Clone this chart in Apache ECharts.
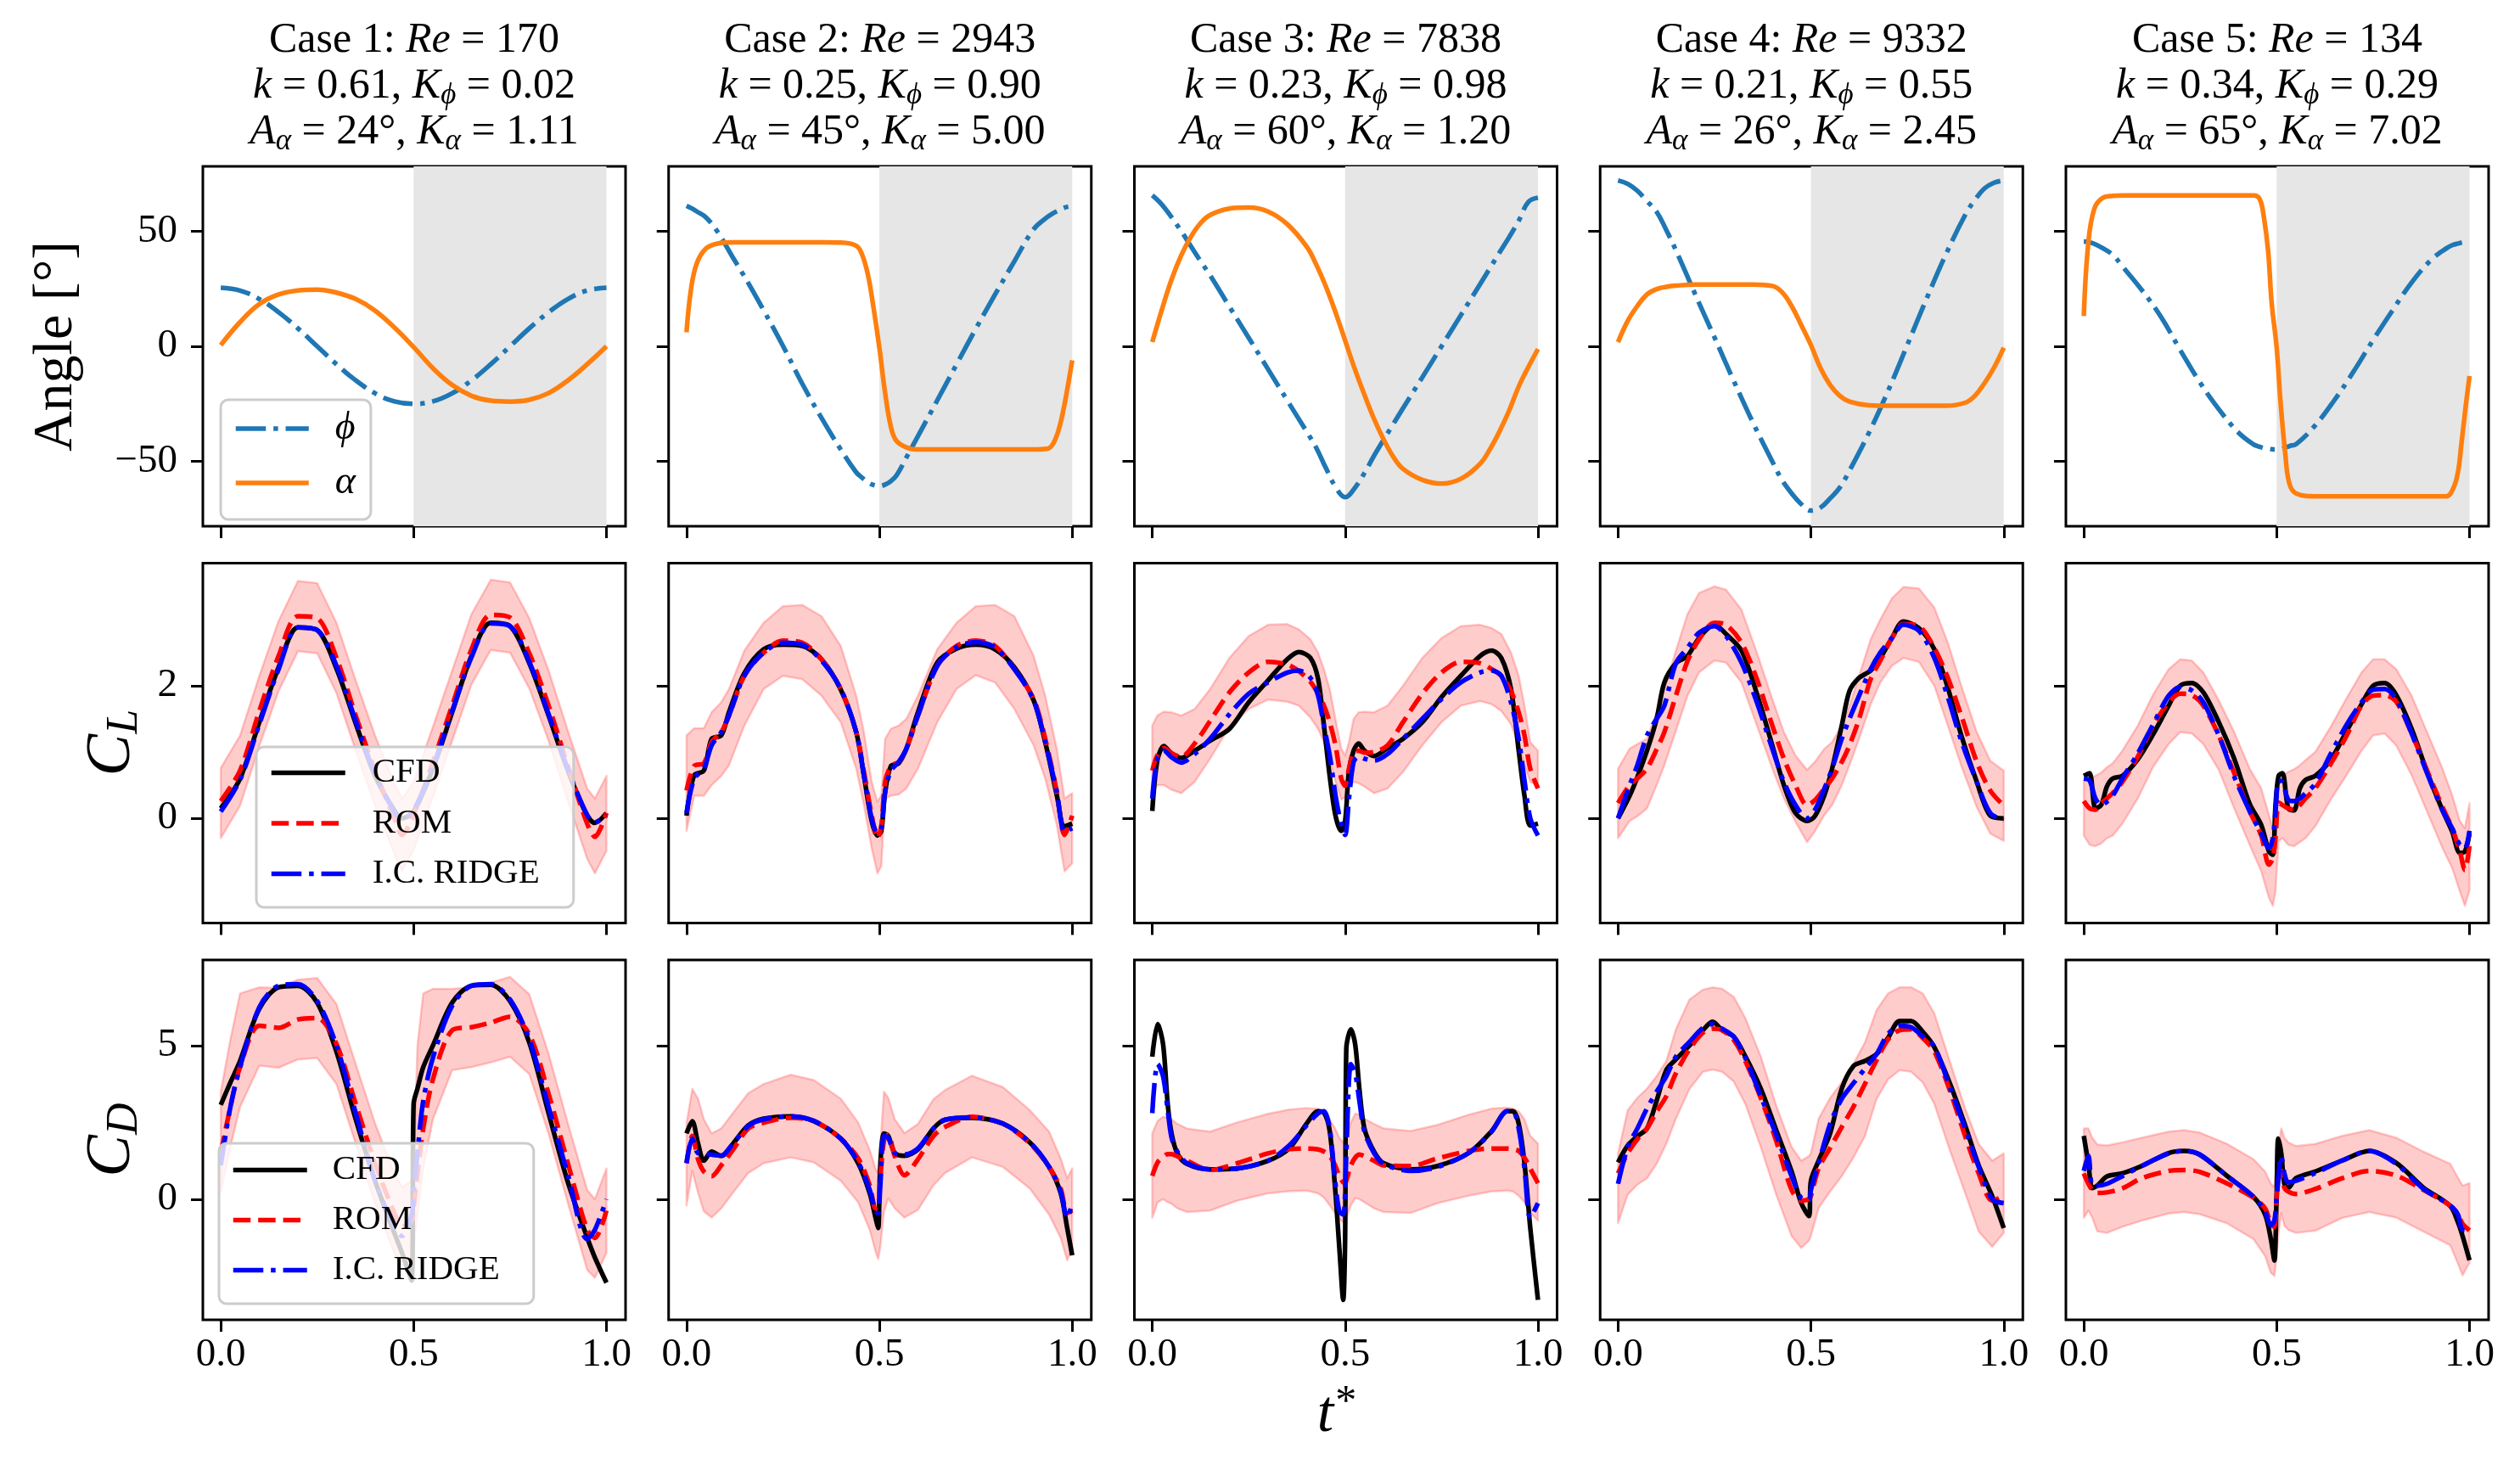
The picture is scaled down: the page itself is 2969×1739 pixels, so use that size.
<!DOCTYPE html>
<html><head><meta charset="utf-8">
<script src="https://cdn.jsdelivr.net/npm/echarts@6.0.0/dist/echarts.min.js"></script>
<style>html,body{margin:0;padding:0;background:#fff}#c{width:2969px;height:1739px}</style>
</head><body><div id="c"></div>
<script>
// ---------------- DATA ----------------
const caseRe = [170, 2943, 7838, 9332, 134];
const caseK = ['0.61', '0.25', '0.23', '0.21', '0.34'];
const caseKphi = ['0.02', '0.90', '0.98', '0.55', '0.29'];
const caseAalpha = [24, 45, 60, 26, 65];
const caseKalpha = ['1.11', '5.00', '1.20', '2.45', '7.02'];

const xTickValues = [0, 0.5, 1.0];
const angleTicks = [-50, 0, 50];
const clTicks = [0, 2];
const cdTicks = [0, 5];

// Row 1: angles
const tA1 = [0,0.05,0.1,0.15,0.2,0.25,0.3,0.35,0.4,0.45,0.5,0.55,0.6,0.65,0.7,0.75,0.8,0.85,0.9,0.95,1.0];
const phiA1 = [25.4,24.2,20.5,14.8,7.8,0,-7.8,-14.8,-20.4,-23.9,-25,-23.9,-20.4,-14.8,-7.8,0,7.8,14.8,20.5,24.2,25.4];
const alphaA1 = [0.5,10.5,18.3,22.5,24.2,24.6,23.3,20.5,15.5,8.2,-0.3,-9.5,-16.8,-21.5,-23.6,-24.0,-23.2,-20.3,-14.8,-7.8,0];

const tA2 = [0,0.012,0.027,0.05,0.08,0.12,0.16,0.2,0.25,0.3,0.35,0.4,0.44,0.455,0.47,0.485,0.5,0.515,0.53,0.545,0.575,0.6,0.65,0.7,0.75,0.8,0.85,0.9,0.935,0.95,0.965,0.98,1.0];
const phiA2 = [61,60,58.5,56,49.8,38.6,27.5,15.6,0.2,-16.2,-31.1,-44.8,-54.7,-57,-59,-60.2,-60.6,-60,-58.5,-55.9,-46.7,-39,-23.5,-7.9,7.6,22.5,36.9,50.8,56,57.7,59,60.2,61];
const alphaA2 = [6.1,25.2,36.2,42.4,44.6,45.1,45.1,45.1,45.1,45.1,45.1,45.0,43.6,39.9,31.3,16.6,-0.6,-20.3,-35,-41.2,-44.2,-44.8,-44.8,-44.8,-44.8,-44.8,-44.8,-44.8,-44.5,-42.4,-36.2,-25.2,-6.1];

const tA3 = [0,0.025,0.05,0.075,0.1,0.125,0.15,0.2,0.25,0.3,0.35,0.4,0.425,0.45,0.475,0.5,0.525,0.55,0.575,0.6,0.625,0.65,0.7,0.75,0.8,0.85,0.875,0.9,0.925,0.95,0.975,1.0];
const phiA3 = [65.5,61.5,56,50,43.5,37,30.8,17.2,3.7,-9.9,-23.5,-37,-44,-52.8,-61,-65.5,-61.5,-55,-47.5,-40.5,-33.7,-26.9,-13.5,0,13.5,27,33.8,40.6,47.3,54.5,62.6,64.5];
const alphaA3 = [1.8,16,29,39.5,47.5,53.4,57,59.8,60.2,58.5,53,43.3,35.5,26,14.8,2.5,-9.8,-21,-31.5,-40.5,-48,-53.2,-58,-59.6,-57.5,-51,-44.8,-37,-28,-17.5,-9,-1.2];

const tA4 = [0,0.025,0.05,0.075,0.1,0.125,0.15,0.2,0.25,0.3,0.35,0.4,0.425,0.45,0.475,0.5,0.525,0.55,0.575,0.6,0.65,0.7,0.75,0.8,0.85,0.9,0.925,0.95,0.975,1.0];
const phiA4 = [72,70.5,67.5,63,58.4,50.5,41.7,22.6,3.9,-15,-33.2,-50,-58,-63.8,-68.5,-71.3,-70,-66,-61.3,-54,-37.7,-19.4,0.6,20.7,39.9,57,63.5,68.5,71,72];
const alphaA4 = [1.8,11,17.5,22.5,24.8,25.8,26.3,26.8,26.8,26.8,26.8,26.2,23.5,17.5,9.2,0.6,-9.5,-16.8,-21.5,-24,-25.6,-25.8,-25.8,-25.8,-25.8,-24.5,-21.5,-16,-9.2,-0.6];

const tA5 = [0,0.011,0.027,0.05,0.075,0.1,0.15,0.2,0.25,0.3,0.35,0.4,0.44,0.456,0.467,0.478,0.487,0.5,0.51,0.522,0.533,0.551,0.6,0.65,0.7,0.75,0.8,0.85,0.9,0.94,0.957,0.97,0.979,0.989,1.0];
const phiA5 = [45.5,45.3,44.5,42.5,39.7,34.7,24.5,12.8,-1.6,-15.4,-27.3,-37.3,-42.6,-43.6,-44.2,-44.5,-44.7,-44.8,-44.6,-44,-43.3,-42.4,-34.3,-23.3,-10.8,2.7,15.5,27.7,37.4,42.5,44,44.6,45,45.3,45.5];
const alphaA5 = [13.1,43.6,59.6,64.5,65.3,65.5,65.5,65.5,65.5,65.5,65.5,65.5,65.5,63.9,55.9,41.2,19,-0.6,-24,-46,-59.6,-63.9,-65.1,-65.1,-65.1,-65.1,-65.1,-65.1,-65.1,-65.1,-62,-54.7,-42.4,-27.6,-12.9];

// Row 2: C_L
const tL1 = [0,0.05,0.1,0.15,0.2,0.25,0.3,0.35,0.4,0.45,0.47,0.5,0.55,0.6,0.65,0.7,0.75,0.8,0.85,0.9,0.95,0.97,1.0];
const cfdL1 = [0.15,0.6,1.45,2.28,2.88,2.84,2.26,1.43,0.64,0.12,0.0,0.1,0.75,1.6,2.45,2.95,2.9,2.34,1.55,0.72,0.04,-0.07,0.08];
const romL1 = [0.26,0.72,1.62,2.45,3.05,3.02,2.42,1.55,0.72,0.0,-0.25,0.05,0.85,1.7,2.55,3.07,3.03,2.49,1.7,0.79,-0.08,-0.28,0.08];
const ridgeL1 = [0.1,0.58,1.42,2.25,2.88,2.84,2.3,1.47,0.66,0.1,-0.02,0.12,0.78,1.62,2.43,2.94,2.9,2.36,1.57,0.74,0.05,-0.06,0.05];
const hiL1 = [0.76,1.25,2.15,2.98,3.58,3.55,2.95,2.08,1.25,0.53,0.3,0.55,1.38,2.23,3.08,3.6,3.56,3.02,2.23,1.32,0.45,0.3,0.64];
const loL1 = [-0.3,0.19,1.09,1.92,2.52,2.49,1.89,1.02,0.19,-0.53,-0.8,-0.48,0.32,1.17,2.02,2.54,2.5,1.96,1.17,0.26,-0.61,-0.83,-0.49];

const tL2 = [0,0.02,0.045,0.065,0.09,0.11,0.15,0.2,0.25,0.3,0.35,0.4,0.44,0.46,0.48,0.495,0.505,0.515,0.53,0.55,0.57,0.6,0.65,0.7,0.75,0.8,0.85,0.9,0.93,0.96,0.98,1.0];
const cfdL2 = [0.04,0.65,0.72,1.2,1.25,1.6,2.19,2.55,2.62,2.6,2.4,1.94,1.3,0.64,-0.04,-0.26,-0.19,0.4,0.79,0.83,1.05,1.6,2.35,2.56,2.62,2.55,2.28,1.78,1.15,0.35,-0.12,-0.08];
const romL2 = [0.42,0.79,0.83,1.15,1.3,1.55,2.15,2.5,2.68,2.65,2.4,1.95,1.3,0.7,0.05,-0.3,-0.12,0.55,0.79,0.85,1.05,1.55,2.3,2.6,2.68,2.6,2.25,1.8,1.2,0.4,-0.25,0.04];
const ridgeL2 = [0.08,0.6,0.75,1.1,1.3,1.55,2.15,2.5,2.65,2.62,2.38,1.95,1.3,0.65,0.0,-0.22,-0.15,0.4,0.72,0.85,1.05,1.55,2.3,2.58,2.66,2.58,2.25,1.78,1.15,0.4,-0.2,-0.15];
const hiL2 = [1.25,1.36,1.36,1.6,1.75,1.95,2.53,2.95,3.2,3.22,3.05,2.6,1.85,1.3,0.55,0.25,0.35,1.2,1.35,1.4,1.5,1.85,2.55,2.95,3.2,3.22,3.05,2.45,1.85,1.05,0.3,0.38];
const loL2 = [-0.19,0.34,0.34,0.5,0.64,0.8,1.4,1.95,2.15,2.1,1.85,1.45,0.75,0.2,-0.45,-0.83,-0.72,0.3,0.34,0.36,0.45,0.75,1.45,1.95,2.16,2.05,1.65,1.1,0.6,-0.1,-0.8,-0.68];

const tL3 = [0,0.013,0.03,0.05,0.075,0.11,0.15,0.2,0.25,0.3,0.35,0.38,0.41,0.43,0.445,0.46,0.475,0.49,0.5,0.51,0.522,0.535,0.55,0.575,0.61,0.65,0.7,0.75,0.8,0.85,0.88,0.905,0.93,0.95,0.965,0.98,1.0];
const cfdL3 = [0.11,0.87,1.09,0.98,0.91,1.02,1.17,1.35,1.75,2.08,2.4,2.51,2.42,2.1,1.4,0.64,0.04,-0.19,-0.04,0.72,1.02,1.13,1.02,0.94,1.06,1.2,1.45,1.83,2.15,2.45,2.53,2.42,1.95,1.02,0.34,-0.11,-0.08];
const romL3 = [0.72,0.95,1.06,0.98,0.93,1.13,1.47,1.9,2.2,2.36,2.32,2.22,2.06,1.88,1.7,1.45,1.1,0.6,0.49,0.75,1.0,1.02,0.99,1.0,1.1,1.45,1.88,2.2,2.36,2.34,2.25,2.15,1.92,1.6,1.25,0.75,0.45];
const ridgeL3 = [0.3,0.9,1.02,0.92,0.84,0.97,1.2,1.57,1.88,2.05,2.2,2.23,2.12,1.85,1.4,0.95,0.35,-0.1,-0.25,0.3,0.85,0.93,0.9,0.87,0.97,1.2,1.5,1.8,2.05,2.2,2.23,2.15,1.75,1.2,0.57,0.0,-0.26];
const hiL3 = [1.4,1.55,1.61,1.6,1.55,1.65,1.95,2.42,2.75,2.92,2.93,2.85,2.7,2.5,2.25,1.95,1.5,1.05,0.95,1.15,1.5,1.6,1.61,1.6,1.7,2.0,2.42,2.72,2.9,2.92,2.87,2.78,2.5,2.15,1.7,1.15,1.02];
const loL3 = [0.34,0.5,0.5,0.43,0.38,0.55,0.9,1.38,1.65,1.79,1.76,1.7,1.52,1.35,1.15,0.9,0.55,0.28,0.32,0.5,0.55,0.53,0.48,0.38,0.45,0.7,1.1,1.45,1.7,1.77,1.72,1.62,1.42,1.1,0.8,0.55,0.49];

const tL4 = [0,0.03,0.05,0.075,0.1,0.12,0.15,0.18,0.21,0.25,0.28,0.32,0.36,0.4,0.43,0.46,0.49,0.51,0.535,0.555,0.58,0.6,0.625,0.655,0.68,0.71,0.74,0.78,0.82,0.855,0.89,0.93,0.965,1.0];
const cfdL4 = [0.0,0.34,0.62,1.02,1.5,2.05,2.34,2.45,2.72,2.92,2.78,2.53,1.88,1.1,0.5,0.08,-0.04,0.03,0.35,0.75,1.4,1.92,2.12,2.23,2.42,2.72,2.97,2.87,2.55,1.97,1.25,0.55,0.04,0.0];
const romL4 = [0.23,0.5,0.6,0.75,1.04,1.3,1.85,2.37,2.7,2.95,2.92,2.65,2.1,1.4,0.9,0.5,0.2,0.27,0.45,0.6,0.85,1.1,1.5,2.1,2.38,2.72,2.93,2.9,2.57,2.12,1.55,0.85,0.42,0.19];
const ridgeL4 = [0.0,0.5,0.8,1.25,1.5,1.7,2.34,2.57,2.8,2.9,2.75,2.35,1.75,1.05,0.55,0.2,0.0,0.12,0.45,0.75,1.2,1.5,1.85,2.25,2.5,2.72,2.92,2.83,2.42,1.83,1.17,0.55,0.08,-0.03];
const hiL4 = [0.75,1.05,1.12,1.2,1.6,1.95,2.53,3.08,3.4,3.5,3.45,3.15,2.5,1.8,1.3,0.95,0.73,0.85,1.05,1.15,1.4,1.7,2.15,2.7,3.0,3.32,3.49,3.47,3.18,2.65,2.0,1.3,0.87,0.72];
const loL4 = [-0.3,-0.04,0.03,0.15,0.5,0.8,1.32,1.85,2.2,2.38,2.35,2.05,1.4,0.75,0.3,-0.05,-0.36,-0.2,0.05,0.2,0.5,0.8,1.2,1.72,2.05,2.3,2.42,2.36,2.0,1.4,0.79,0.17,-0.23,-0.34];

const tL5 = [0,0.015,0.03,0.045,0.06,0.075,0.1,0.14,0.18,0.22,0.25,0.28,0.31,0.35,0.39,0.43,0.46,0.48,0.49,0.497,0.505,0.515,0.53,0.545,0.56,0.575,0.6,0.64,0.68,0.72,0.75,0.78,0.81,0.85,0.89,0.93,0.955,0.975,0.988,1.0];
const cfdL5 = [0.64,0.68,0.15,0.2,0.48,0.6,0.64,0.89,1.27,1.7,2.0,2.04,1.9,1.45,0.9,0.22,-0.1,-0.5,-0.55,0.2,0.64,0.68,0.15,0.12,0.45,0.58,0.64,0.88,1.3,1.72,2.0,2.04,1.86,1.35,0.7,0.12,-0.2,-0.52,-0.5,-0.23];
const romL5 = [0.26,0.15,0.13,0.22,0.3,0.38,0.55,0.93,1.4,1.75,1.88,1.86,1.7,1.25,0.68,0.11,-0.26,-0.7,-0.6,-0.3,0.24,0.2,0.15,0.13,0.2,0.3,0.45,0.82,1.23,1.7,1.85,1.86,1.76,1.28,0.72,0.17,-0.15,-0.5,-0.78,-0.42];
const ridgeL5 = [0.6,0.57,0.3,0.2,0.25,0.34,0.6,0.98,1.42,1.85,1.98,1.93,1.75,1.25,0.63,0.11,-0.23,-0.45,-0.3,0.1,0.57,0.55,0.28,0.26,0.3,0.38,0.52,0.97,1.4,1.75,1.94,1.95,1.8,1.28,0.68,0.12,-0.15,-0.4,-0.45,-0.19];
const hiL5 = [0.57,0.6,0.64,0.69,0.77,0.83,1.02,1.4,1.87,2.25,2.4,2.38,2.2,1.78,1.3,0.75,0.45,0.05,-0.15,-0.05,0.5,0.64,0.7,0.74,0.8,0.88,1.0,1.38,1.8,2.2,2.4,2.4,2.25,1.85,1.3,0.75,0.35,-0.04,-0.15,0.23];
const loL5 = [-0.26,-0.4,-0.42,-0.38,-0.3,-0.26,-0.08,0.3,0.78,1.12,1.3,1.28,1.12,0.73,0.15,-0.4,-0.8,-1.2,-1.32,-1.1,-0.34,-0.3,-0.4,-0.42,-0.36,-0.3,-0.12,0.28,0.64,1.02,1.25,1.28,1.1,0.65,0.1,-0.45,-0.75,-1.1,-1.32,-1.09];

// Row 3: C_D
const tD1 = [0,0.025,0.05,0.1,0.15,0.2,0.25,0.3,0.35,0.4,0.45,0.47,0.495,0.5,0.51,0.525,0.55,0.6,0.65,0.7,0.75,0.8,0.85,0.9,0.95,0.97,1.0];
const cfdD1 = [3.07,3.8,4.5,6.2,6.9,6.95,6.4,4.8,2.6,0.6,-1.1,-1.75,-2.65,3.1,3.6,4.3,5.0,6.4,6.95,6.98,6.45,5.1,2.8,0.55,-1.25,-1.9,-2.72];
const romD1 = [1.5,3.0,4.3,5.65,5.58,5.85,5.9,5.05,3.1,1.17,-0.45,-0.9,-0.7,-0.3,0.8,2.3,3.9,5.5,5.6,5.75,5.94,5.37,3.43,1.17,-1.0,-1.26,-0.37];
const ridgeD1 = [1.1,3.0,4.3,6.25,6.95,7.0,6.45,5.0,2.8,0.6,-0.9,-1.2,-0.5,0.2,1.5,3.2,4.6,6.3,6.95,7.0,6.5,5.2,3.0,0.8,-1.3,-1.0,0.0];
const hiD1 = [3.5,5.2,6.7,6.9,6.88,7.15,7.2,6.35,4.4,2.47,0.85,0.4,0.6,1.0,5.0,6.7,6.85,6.85,6.9,7.05,7.24,6.67,4.73,2.47,0.3,0.0,1.0];
const loD1 = [0.2,1.7,3.0,4.35,4.28,4.55,4.6,3.75,1.8,-0.13,-1.75,-2.2,-2.0,-1.6,-0.5,1.0,2.6,4.2,4.3,4.45,4.64,4.07,2.13,-0.13,-2.3,-2.56,-1.75];

const tD2 = [0,0.015,0.03,0.045,0.065,0.09,0.12,0.16,0.2,0.27,0.33,0.4,0.445,0.475,0.49,0.497,0.502,0.512,0.523,0.54,0.565,0.6,0.64,0.67,0.74,0.82,0.89,0.94,0.97,0.987,1.0];
const cfdD2 = [2.14,2.54,1.81,1.25,1.55,1.41,1.8,2.4,2.62,2.7,2.54,1.97,1.17,0.19,-0.6,-0.94,1.0,2.14,2.06,1.5,1.41,1.62,2.3,2.59,2.65,2.46,1.85,1.05,0.2,-0.94,-1.83];
const romD2 = [1.17,2.06,1.3,0.9,0.75,1.1,1.6,2.3,2.49,2.65,2.55,1.97,1.33,0.45,-0.3,-0.2,0.6,1.9,2.1,1.4,0.78,1.3,2.05,2.35,2.68,2.46,1.82,1.05,0.35,-0.45,-0.37];
const ridgeD2 = [1.17,1.97,1.5,1.49,1.45,1.42,1.8,2.38,2.6,2.7,2.55,1.97,1.2,0.3,-0.4,-0.45,0.36,2.06,2.0,1.5,1.45,1.65,2.3,2.58,2.66,2.46,1.85,1.05,0.25,-0.61,-0.13];
const hiD2 = [2.46,3.59,3.27,2.6,2.14,2.3,2.8,3.45,3.75,4.05,3.88,3.27,2.5,1.6,1.0,0.85,1.65,3.5,3.3,2.6,2.15,2.45,3.25,3.55,4.02,3.65,2.9,2.2,1.33,0.68,1.0];
const loD2 = [-0.21,0.92,0.2,-0.4,-0.6,-0.3,0.2,0.85,1.17,1.36,1.2,0.6,-0.1,-1.0,-1.7,-1.95,-1.6,-0.4,0.03,-0.3,-0.6,-0.35,0.45,0.85,1.36,1.05,0.35,-0.5,-1.26,-1.99,-1.59];

const tD3 = [0,0.014,0.028,0.04,0.05,0.065,0.09,0.15,0.22,0.3,0.355,0.4,0.43,0.445,0.46,0.474,0.485,0.495,0.5,0.503,0.515,0.526,0.537,0.55,0.575,0.6,0.67,0.74,0.82,0.88,0.92,0.935,0.95,0.965,0.98,1.0];
const cfdD3 = [4.64,5.7,5.05,3.1,2.14,1.49,1.15,0.97,1.0,1.25,1.65,2.46,2.86,2.82,2.22,0.36,-1.59,-3.28,-1.26,4.89,5.53,5.05,3.59,2.3,1.55,1.17,0.97,1.08,1.5,2.22,2.86,2.86,2.46,1.17,-0.94,-3.28];
const romD3 = [0.76,1.2,1.38,1.47,1.47,1.4,1.25,0.95,1.17,1.49,1.63,1.65,1.62,1.55,1.41,1.1,0.75,0.55,0.52,0.6,1.1,1.35,1.45,1.4,1.25,1.1,1.08,1.33,1.57,1.65,1.65,1.63,1.57,1.35,1.0,0.52];
const ridgeD3 = [2.8,4.4,4.0,2.9,2.0,1.55,1.17,0.97,1.0,1.25,1.75,2.4,2.8,2.86,2.3,0.6,-0.4,-0.5,0.2,1.5,4.4,4.1,3.2,2.2,1.5,1.15,0.92,1.05,1.5,2.2,2.86,2.86,2.3,1.0,-0.6,-0.13];
const hiD3 = [2.14,2.55,2.68,2.65,2.6,2.45,2.3,2.2,2.5,2.78,2.92,2.97,2.94,2.85,2.6,2.3,2.0,1.85,1.81,1.95,2.5,2.78,2.75,2.62,2.45,2.3,2.22,2.42,2.75,2.95,2.98,2.95,2.86,2.6,2.06,1.81];
const loD3 = [-0.61,-0.1,0.0,-0.1,-0.15,-0.3,-0.42,-0.37,-0.05,0.19,0.26,0.28,0.19,0.05,-0.2,-0.45,-0.65,-0.75,-0.78,-0.6,-0.2,0.03,0.0,-0.1,-0.3,-0.42,-0.45,-0.13,0.11,0.25,0.28,0.25,0.11,-0.1,-0.45,-0.7];

const tD4 = [0,0.025,0.05,0.075,0.1,0.125,0.15,0.185,0.22,0.245,0.27,0.3,0.33,0.37,0.41,0.45,0.475,0.495,0.5,0.52,0.55,0.58,0.61,0.64,0.67,0.7,0.73,0.76,0.79,0.82,0.86,0.9,0.935,0.97,1.0];
const cfdD4 = [1.2,1.75,2.05,2.3,3.2,4.2,4.55,5.0,5.5,5.78,5.5,5.29,4.65,3.6,2.25,0.9,-0.13,-0.55,0.6,1.25,2.15,3.6,4.33,4.5,4.72,5.25,5.8,5.8,5.45,4.95,3.78,2.4,1.1,0.1,-0.94];
const romD4 = [0.84,1.5,1.95,2.3,2.85,3.35,4.1,4.88,5.42,5.55,5.5,5.18,4.5,3.3,1.9,0.3,-0.05,0.0,0.1,1.0,1.67,2.35,3.0,3.75,4.52,5.2,5.5,5.53,5.25,4.81,3.55,2.05,0.84,-0.05,0.11];
const ridgeD4 = [0.5,1.7,2.3,2.95,3.5,4.0,4.64,5.12,5.58,5.7,5.55,5.29,4.6,3.35,2.1,0.75,0.03,-0.03,0.3,1.17,2.45,3.27,3.77,4.25,4.72,5.38,5.65,5.6,5.3,4.97,3.65,2.3,1.05,0.0,-0.13];
const hiD4 = [1.49,2.9,3.3,3.6,4.0,4.5,5.53,6.5,6.82,6.9,6.85,6.59,5.9,4.65,3.05,1.7,1.25,1.4,1.5,2.62,3.3,3.8,4.4,5.1,6.15,6.7,6.9,6.9,6.7,6.05,4.5,2.95,1.8,1.25,1.49];
const loD4 = [-0.78,0.15,0.47,0.68,1.15,1.8,2.62,3.58,4.15,4.22,4.15,3.83,3.1,1.7,0.15,-1.2,-1.59,-1.35,-1.2,-0.29,0.25,0.75,1.35,2.05,3.25,3.9,4.2,4.15,3.8,3.1,1.6,0.2,-1.05,-1.55,-1.1];

const tD5 = [0,0.012,0.022,0.035,0.06,0.1,0.15,0.22,0.26,0.3,0.37,0.44,0.47,0.485,0.494,0.5,0.504,0.512,0.52,0.53,0.55,0.6,0.67,0.74,0.81,0.88,0.95,0.97,0.982,1.0];
const cfdD5 = [2.06,1.15,0.36,0.44,0.74,0.84,1.08,1.5,1.57,1.45,0.77,0.07,-0.5,-1.3,-2.0,0.2,1.97,1.49,0.5,0.37,0.68,0.9,1.26,1.57,1.18,0.38,-0.22,-0.75,-1.2,-1.99];
const romD5 = [0.84,0.5,0.3,0.2,0.22,0.35,0.68,0.92,0.95,0.89,0.52,0.05,-0.3,-0.8,-0.9,0.03,0.6,0.92,0.38,0.25,0.17,0.33,0.68,0.92,0.77,0.3,-0.21,-0.5,-0.8,-1.02];
const ridgeD5 = [0.92,1.41,0.44,0.44,0.5,0.75,1.08,1.49,1.57,1.46,0.77,0.08,-0.4,-0.85,-0.7,0.03,0.6,1.41,0.84,0.55,0.6,0.85,1.26,1.57,1.15,0.34,-0.21,-0.5,-1.0,-1.02];
const hiD5 = [2.3,2.3,2.0,1.78,1.75,1.85,2.0,2.2,2.25,2.17,1.81,1.3,0.9,0.5,0.4,1.2,1.6,2.3,2.0,1.85,1.73,1.8,2.06,2.25,2.0,1.55,1.15,0.7,0.44,0.52];
const loD5 = [-0.61,-0.37,-0.6,-1.05,-1.1,-0.9,-0.7,-0.47,-0.42,-0.49,-0.78,-1.3,-1.85,-2.4,-2.5,-1.9,-1.2,-0.45,-0.86,-1.0,-1.1,-1.03,-0.61,-0.42,-0.6,-1.05,-1.5,-2.1,-2.48,-2.07];

// ---------------- CHART ----------------
const FONT = 'Liberation Serif';
const LW = 5.5;
const DASH = [20.5, 8.9];
const DASHDOT = [35.5, 8.9, 5.5, 8.9];
const COL_LEFT = [0, 1, 2, 3, 4].map(c => 239 + c * 548.75);
const ROW_TOP = [196, 663.5, 1131];
const PW = 498, PH = 424;
const X_MIN = -0.0464, X_MAX = 1.0495;
const ROW_Y = [
  {min: -78.1, max: 78.1, ticks: angleTicks},
  {min: -1.58, max: 3.85, ticks: clTicks},
  {min: -3.93, max: 7.79, ticks: cdTicks}
];

const anglePanels = [
  {t: tA1, phi: phiA1, alpha: alphaA1},
  {t: tA2, phi: phiA2, alpha: alphaA2},
  {t: tA3, phi: phiA3, alpha: alphaA3},
  {t: tA4, phi: phiA4, alpha: alphaA4},
  {t: tA5, phi: phiA5, alpha: alphaA5}
];
const clPanels = [
  {t: tL1, cfd: cfdL1, rom: romL1, ridge: ridgeL1, lo: loL1, hi: hiL1},
  {t: tL2, cfd: cfdL2, rom: romL2, ridge: ridgeL2, lo: loL2, hi: hiL2},
  {t: tL3, cfd: cfdL3, rom: romL3, ridge: ridgeL3, lo: loL3, hi: hiL3},
  {t: tL4, cfd: cfdL4, rom: romL4, ridge: ridgeL4, lo: loL4, hi: hiL4},
  {t: tL5, cfd: cfdL5, rom: romL5, ridge: ridgeL5, lo: loL5, hi: hiL5}
];
const cdPanels = [
  {t: tD1, cfd: cfdD1, rom: romD1, ridge: ridgeD1, lo: loD1, hi: hiD1},
  {t: tD2, cfd: cfdD2, rom: romD2, ridge: ridgeD2, lo: loD2, hi: hiD2},
  {t: tD3, cfd: cfdD3, rom: romD3, ridge: ridgeD3, lo: loD3, hi: hiD3},
  {t: tD4, cfd: cfdD4, rom: romD4, ridge: ridgeD4, lo: loD4, hi: hiD4},
  {t: tD5, cfd: cfdD5, rom: romD5, ridge: ridgeD5, lo: loD5, hi: hiD5}
];

const pairs = (t, v) => t.map((x, k) => [x, v[k]]);
const minus = v => (v < 0 ? '\u2212' + Math.abs(v) : String(v));

const grids = [], xAxes = [], yAxes = [], series = [];
for (let r = 0; r < 3; r++) {
  for (let c = 0; c < 5; c++) {
    const g = r * 5 + c;
    grids.push({left: COL_LEFT[c], top: ROW_TOP[r], width: PW, height: PH, show: true,
      borderColor: '#000', borderWidth: 3, backgroundColor: 'rgba(0,0,0,0)',
      containLabel: false, outerBoundsMode: 'none'});
    xAxes.push({gridIndex: g, type: 'value', min: X_MIN, max: X_MAX,
      axisLine: {show: false, onZero: false},
      axisTick: {show: true, inside: false, length: 14, lineStyle: {color: '#000', width: 3}, customValues: xTickValues},
      axisLabel: {show: r === 2, customValues: xTickValues, formatter: v => v.toFixed(1),
        fontFamily: FONT, fontSize: 47, color: '#000', margin: 18},
      splitLine: {show: false}});
    yAxes.push({gridIndex: g, type: 'value', min: ROW_Y[r].min, max: ROW_Y[r].max,
      axisLine: {show: false, onZero: false},
      axisTick: {show: true, inside: false, length: 14, lineStyle: {color: '#000', width: 3}, customValues: ROW_Y[r].ticks},
      axisLabel: {show: c === 0, customValues: ROW_Y[r].ticks, formatter: minus,
        fontFamily: FONT, fontSize: 47, color: '#000', margin: 30},
      splitLine: {show: false}});
  }
}

const lineBase = (g, z) => ({type: 'line', xAxisIndex: g, yAxisIndex: g, symbol: 'none', showSymbol: false,
  smooth: 0.3, animation: false, silent: true, z: z});

anglePanels.forEach((p, c) => {
  const g = c;
  series.push(Object.assign(lineBase(g, 2), {name: '\u03D5', data: pairs(p.t, p.phi), smooth: 0.4,
    lineStyle: {color: '#1f77b4', width: LW, type: DASHDOT}, itemStyle: {color: '#1f77b4'},
    markArea: {silent: true, itemStyle: {color: '#e6e6e6'}, data: [[{xAxis: 0.5}, {xAxis: 1.0}]]}}));
  series.push(Object.assign(lineBase(g, 3), {name: '\u03B1', data: pairs(p.t, p.alpha), smooth: 0.4,
    lineStyle: {color: '#ff7f0e', width: LW, type: 'solid'}, itemStyle: {color: '#ff7f0e'}}));
});

function bandRenderer(n) {
  return function (params, api) {
    if (params.dataIndexInside !== 0) return null;
    const pts = [];
    for (let k = 0; k < n; k++) pts.push(api.coord([api.value(0, k), api.value(2, k)]));
    for (let k = n - 1; k >= 0; k--) pts.push(api.coord([api.value(0, k), api.value(1, k)]));
    return {type: 'polygon', silent: true, shape: {points: pts},
      style: {fill: 'rgba(255,0,0,0.2)', stroke: 'rgba(255,0,0,0.2)', lineWidth: 2.5, lineJoin: 'round'}};
  };
}

[clPanels, cdPanels].forEach((panels, ri) => {
  panels.forEach((p, c) => {
    const g = (ri + 1) * 5 + c;
    series.push({type: 'custom', xAxisIndex: g, yAxisIndex: g, z: 1, silent: true, animation: false,
      dimensions: ['t', 'lo', 'hi'], encode: {x: 0, y: [1, 2]},
      data: p.t.map((x, k) => [x, p.lo[k], p.hi[k]]), renderItem: bandRenderer(p.t.length)});
    series.push(Object.assign(lineBase(g, 2), {name: 'CFD', data: pairs(p.t, p.cfd),
      lineStyle: {color: '#000000', width: LW, type: 'solid'}, itemStyle: {color: '#000000'}}));
    series.push(Object.assign(lineBase(g, 3), {name: 'ROM', data: pairs(p.t, p.rom),
      lineStyle: {color: '#ff0000', width: LW, type: DASH}, itemStyle: {color: '#ff0000'}}));
    series.push(Object.assign(lineBase(g, 4), {name: 'I.C. RIDGE', data: pairs(p.t, p.ridge),
      lineStyle: {color: '#0000ff', width: LW, type: DASHDOT}, itemStyle: {color: '#0000ff'}}));
  });
});

const legendCommon = {orient: 'vertical', selectedMode: false, itemHeight: 20,
  backgroundColor: 'rgba(255,255,255,0.8)', borderColor: '#cccccc', borderWidth: 3, borderRadius: 9,
  itemStyle: {opacity: 0}, lineStyle: {width: LW}, z: 20};
const legends = [
  Object.assign({}, legendCommon, {data: ['\u03D5', '\u03B1'], left: 260, top: 471, itemWidth: 86, itemGap: 18,
    padding: [11, 18, 20, 15],
    textStyle: {fontFamily: FONT, fontSize: 46, fontStyle: 'italic', color: '#000', lineHeight: 40, padding: [0, 0, 0, 26], width: 24}}),
  Object.assign({}, legendCommon, {data: ['CFD', 'ROM', 'I.C. RIDGE'], left: 302, top: 880, itemWidth: 87, itemGap: 18.5,
    padding: [10, 20, 19, 15],
    textStyle: {fontFamily: FONT, fontSize: 41, color: '#000', lineHeight: 40, padding: [0, 0, 0, 27], width: 217}}),
  Object.assign({}, legendCommon, {data: ['CFD', 'ROM', 'I.C. RIDGE'], left: 258, top: 1347, itemWidth: 87, itemGap: 18,
    padding: [11, 20, 19, 14],
    textStyle: {fontFamily: FONT, fontSize: 41, color: '#000', lineHeight: 40, padding: [0, 0, 0, 25], width: 217}})
];

// titles & axis labels as text graphics
const titleRich = {
  n: {fontFamily: FONT, fontSize: 50, lineHeight: 54, fill: '#000', align: 'center'},
  i: {fontFamily: FONT, fontSize: 50, fontStyle: 'italic', lineHeight: 54, fill: '#000', align: 'center'},
  s: {fontFamily: FONT, fontSize: 35, fontStyle: 'italic', lineHeight: 54, fill: '#000', align: 'center', padding: [22, 0, 0, 0]}
};
const graphics = [];
for (let c = 0; c < 5; c++) {
  const txt = '{n|Case ' + (c + 1) + ': }{i|Re}{n| = ' + caseRe[c] + '}\n' +
    '{i|k}{n| = ' + caseK[c] + ', }{i|K}{s|\u03D5}{n| = ' + caseKphi[c] + '}\n' +
    '{i|A}{s|\u03B1}{n| = ' + caseAalpha[c] + '\u00B0, }{i|K}{s|\u03B1}{n| = ' + caseKalpha[c] + '}';
  graphics.push({type: 'text', x: COL_LEFT[c] + PW / 2, y: 102, silent: true,
    style: {text: txt, rich: titleRich, align: 'center', verticalAlign: 'middle', fill: '#000'}});
}
graphics.push({type: 'text', x: 67, y: 408, rotation: Math.PI / 2, silent: true,
  style: {text: 'Angle [\u00B0]', fontFamily: FONT, fontSize: 66, fill: '#000', align: 'center', verticalAlign: 'middle'}});
const yRich = {
  c: {fontFamily: FONT, fontSize: 74, fontStyle: 'italic', lineHeight: 80, fill: '#000', align: 'center'},
  s: {fontFamily: FONT, fontSize: 52, fontStyle: 'italic', lineHeight: 80, fill: '#000', align: 'center', padding: [28, 0, 0, 0]}
};
graphics.push({type: 'text', x: 133, y: 875, rotation: Math.PI / 2, silent: true,
  style: {text: '{c|C}{s|L}', rich: yRich, align: 'center', verticalAlign: 'middle'}});
graphics.push({type: 'text', x: 133, y: 1343, rotation: Math.PI / 2, silent: true,
  style: {text: '{c|C}{s|D}', rich: yRich, align: 'center', verticalAlign: 'middle'}});
graphics.push({type: 'text', x: 1575, y: 1668, silent: true,
  style: {text: '{t|t}{p|*}', align: 'center', verticalAlign: 'middle', rich: {
    t: {fontFamily: FONT, fontSize: 70, fontStyle: 'italic', lineHeight: 80, fill: '#000', align: 'center'},
    p: {fontFamily: FONT, fontSize: 50, lineHeight: 80, fill: '#000', align: 'center', padding: [0, 0, 30, 2]}}}});

const chart = echarts.init(document.getElementById('c'), null, {renderer: 'canvas', width: 2969, height: 1739});
chart.setOption({
  animation: false,
  backgroundColor: '#ffffff',
  grid: grids, xAxis: xAxes, yAxis: yAxes, series: series,
  legend: legends,
  graphic: {elements: graphics}
});
</script></body></html>
